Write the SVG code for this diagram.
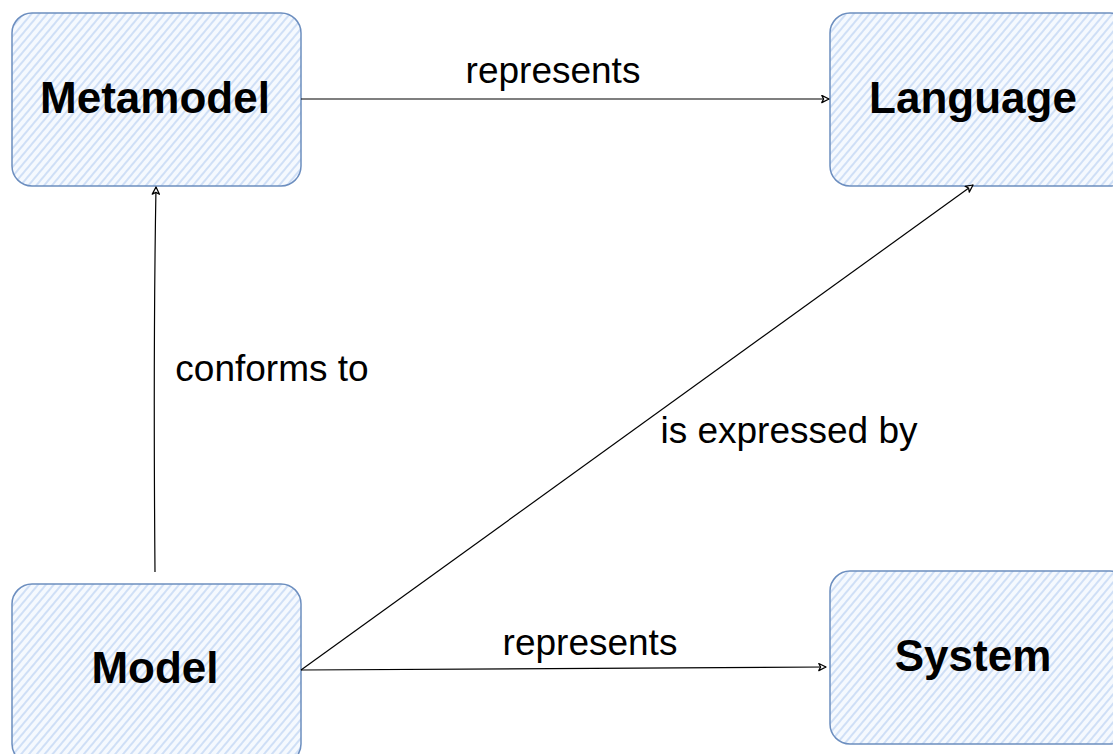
<svg xmlns="http://www.w3.org/2000/svg" width="1113" height="754" viewBox="0 0 1113 754">
<defs>
<pattern id="hatch" patternUnits="userSpaceOnUse" width="6" height="6" patternTransform="rotate(-50)">
<rect width="6" height="6" fill="#f5f9fe"/>
<line x1="0" y1="3" x2="6" y2="3" stroke="#c6d9f4" stroke-width="1.6"/>
</pattern>
<marker id="arr" viewBox="0 0 10 10" refX="9" refY="5" markerWidth="9" markerHeight="9" markerUnits="userSpaceOnUse" orient="auto">
<path d="M1,1 L9,5 L1,9 L3,5 Z" fill="#fff" stroke="#000" stroke-width="1.4" stroke-linejoin="round"/>
</marker>
</defs>
<style>
.node rect{fill:url(#hatch);stroke:#6c8ebf;stroke-width:1.5}
.nlabel{font-family:"Liberation Sans",Arial,sans-serif;font-size:44px;font-weight:bold;fill:#000;text-anchor:middle}
.elabel{font-family:"Liberation Sans",Arial,sans-serif;font-size:37px;fill:#000;text-anchor:middle}
.edge{fill:none;stroke:#000;stroke-width:1.2;marker-end:url(#arr)}
</style>
<rect width="1113" height="754" fill="#ffffff"/>
<g id="node-metamodel" class="node">
<rect x="12" y="13" width="289" height="173" rx="20"/>
<text class="nlabel" x="155" y="113">Metamodel</text>
</g>
<g id="node-language" class="node">
<rect x="830" y="13" width="300" height="173" rx="20"/>
<text class="nlabel" x="973" y="113">Language</text>
</g>
<g id="node-model" class="node">
<rect x="12" y="584" width="289" height="180" rx="20"/>
<text class="nlabel" x="155" y="683">Model</text>
</g>
<g id="node-system" class="node">
<rect x="830" y="571" width="300" height="173" rx="20"/>
<text class="nlabel" x="973" y="671">System</text>
</g>
<g id="connectors">
<path class="edge" d="M301,99 L829,99"/>
<path class="edge" d="M155,572 C154,450 154,300 156,187"/>
<path class="edge" d="M301,670 L973,185"/>
<path class="edge" d="M301,670 L826,667"/>
<text class="elabel" x="553" y="83">represents</text>
<text class="elabel" x="272" y="381">conforms to</text>
<text class="elabel" x="789" y="443">is expressed by</text>
<text class="elabel" x="590" y="655">represents</text>
</g>
</svg>
